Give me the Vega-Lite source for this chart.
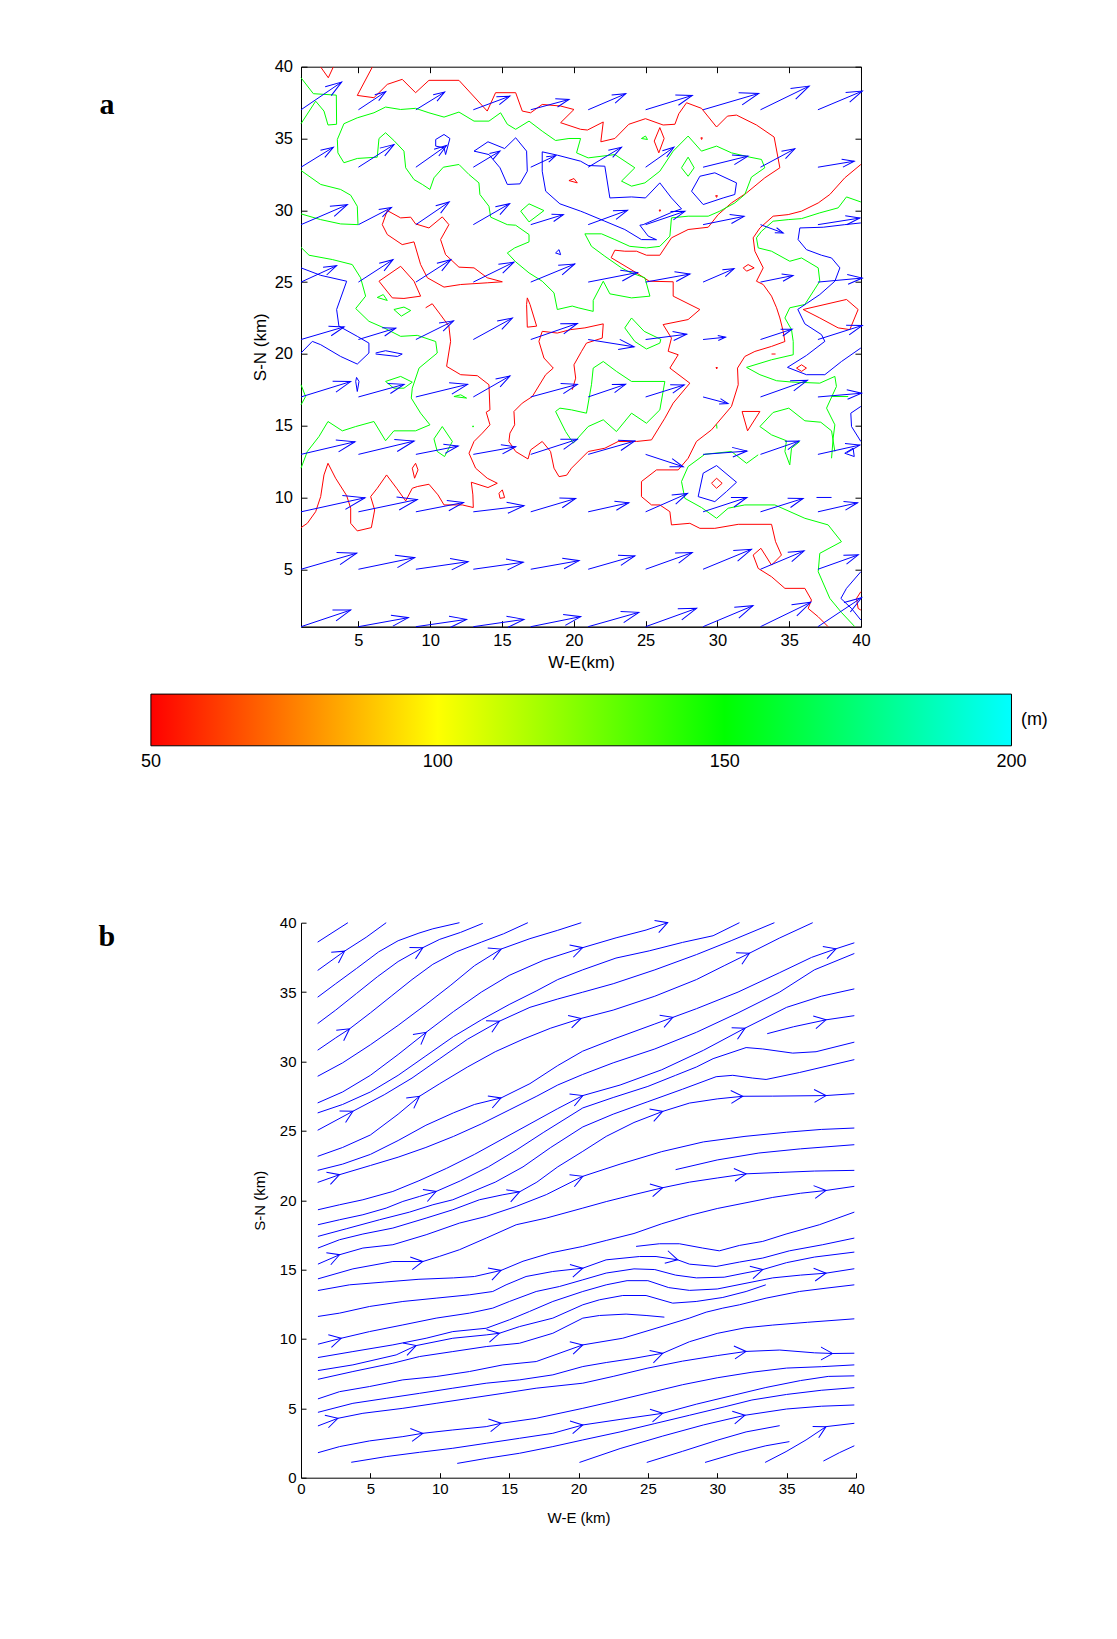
{
"$schema":"https://vega.github.io/schema/vega-lite/v6.json",
"padding":{"left":98,"top":57.7,"right":5,"bottom":5},
"background":"white",
"bounds":"flush",
"spacing":296,
"config":{
 "font":"Liberation Sans",
 "view":{"stroke":"black","strokeWidth":1},
 "axis":{"grid":false,"domainColor":"black","tickColor":"black","labelColor":"black","titleColor":"black","titleFontWeight":"normal","labelFlush":false,"labelOverlap":false,"domainWidth":1,"tickWidth":1,"labelFont":"Liberation Sans","titleFont":"Liberation Sans"}
},
"datasets":{
"contours":[
{"s":"r1","v":50,"x":2.37,"y":39.98},{"s":"r1","v":50,"x":2.9,"y":39.23},{"s":"r1","v":50,"x":3.25,"y":39.98},
{"s":"r2","v":50,"x":5.97,"y":39.98},{"s":"r2","v":50,"x":4.92,"y":38.0},{"s":"r2","v":50,"x":6.08,"y":37.84},{"s":"r2","v":50,"x":7.01,"y":38.77},{"s":"r2","v":50,"x":8.05,"y":39.12},{"s":"r2","v":50,"x":8.98,"y":38.19},{"s":"r2","v":50,"x":9.91,"y":39.05},{"s":"r2","v":50,"x":12.0,"y":39.05},{"s":"r2","v":50,"x":13.97,"y":36.91},{"s":"r2","v":50,"x":14.55,"y":38.19},{"s":"r2","v":50,"x":15.95,"y":38.19},{"s":"r2","v":50,"x":16.41,"y":36.91},{"s":"r2","v":50,"x":16.99,"y":36.79},{"s":"r2","v":50,"x":17.8,"y":37.37},{"s":"r2","v":50,"x":19.08,"y":37.26},{"s":"r2","v":50,"x":20.01,"y":37.02},{"s":"r2","v":50,"x":19.08,"y":36.1},{"s":"r2","v":50,"x":20.47,"y":35.64},{"s":"r2","v":50,"x":20.95,"y":35.59},{"s":"r2","v":50,"x":22.05,"y":36.15},{"s":"r2","v":50,"x":21.88,"y":34.77},{"s":"r2","v":50,"x":22.86,"y":35.0},{"s":"r2","v":50,"x":23.83,"y":35.99},{"s":"r2","v":50,"x":24.99,"y":36.38},{"s":"r2","v":50,"x":26.22,"y":35.94},{"s":"r2","v":50,"x":27.04,"y":35.99},{"s":"r2","v":50,"x":27.31,"y":36.72},{"s":"r2","v":50,"x":27.85,"y":37.49},{"s":"r2","v":50,"x":28.89,"y":37.1},{"s":"r2","v":50,"x":29.94,"y":35.8},{"s":"r2","v":50,"x":30.7,"y":36.56},{"s":"r2","v":50,"x":31.33,"y":36.63},{"s":"r2","v":50,"x":32.72,"y":35.94},{"s":"r2","v":50,"x":33.95,"y":35.1},{"s":"r2","v":50,"x":34.35,"y":32.96},{"s":"r2","v":50,"x":33.3,"y":32.26},{"s":"r2","v":50,"x":32.03,"y":31.21},{"s":"r2","v":50,"x":30.98,"y":30.51},{"s":"r2","v":50,"x":30.05,"y":29.7},{"s":"r2","v":50,"x":29.36,"y":28.82},{"s":"r2","v":50,"x":27.96,"y":28.66},{"s":"r2","v":50,"x":26.8,"y":28.08},{"s":"r2","v":50,"x":25.99,"y":26.87},{"s":"r2","v":50,"x":25.06,"y":26.87},{"s":"r2","v":50,"x":24.37,"y":27.15},{"s":"r2","v":50,"x":23.55,"y":27.15},{"s":"r2","v":50,"x":22.86,"y":27.22},{"s":"r2","v":50,"x":22.6,"y":26.7},{"s":"r2","v":50,"x":24.37,"y":25.64},{"s":"r2","v":50,"x":25.25,"y":25.06},{"s":"r2","v":50,"x":26.92,"y":25.02},{"s":"r2","v":50,"x":26.92,"y":24.02},{"s":"r2","v":50,"x":28.78,"y":23.09},{"s":"r2","v":50,"x":27.96,"y":22.39},{"s":"r2","v":50,"x":26.22,"y":22.04},{"s":"r2","v":50,"x":26.8,"y":21.1},{"s":"r2","v":50,"x":26.57,"y":20.18},{"s":"r2","v":50,"x":27.27,"y":19.94},{"s":"r2","v":50,"x":26.69,"y":19.01},{"s":"r2","v":50,"x":28.08,"y":17.96},{"s":"r2","v":50,"x":26.92,"y":16.57},{"s":"r2","v":50,"x":26.34,"y":15.52},{"s":"r2","v":50,"x":25.41,"y":14.01},{"s":"r2","v":50,"x":24.37,"y":13.9},{"s":"r2","v":50,"x":23.09,"y":13.9},{"s":"r2","v":50,"x":22.16,"y":13.43},{"s":"r2","v":50,"x":21.0,"y":13.2},{"s":"r2","v":50,"x":19.84,"y":12.04},{"s":"r2","v":50,"x":19.5,"y":11.55},{"s":"r2","v":50,"x":18.97,"y":11.45},{"s":"r2","v":50,"x":18.62,"y":12.04},{"s":"r2","v":50,"x":18.38,"y":13.2},{"s":"r2","v":50,"x":17.8,"y":13.9},{"s":"r2","v":50,"x":16.99,"y":13.31},{"s":"r2","v":50,"x":16.81,"y":12.68},{"s":"r2","v":50,"x":15.95,"y":13.2},{"s":"r2","v":50,"x":15.48,"y":13.9},{"s":"r2","v":50,"x":15.55,"y":14.48},{"s":"r2","v":50,"x":15.88,"y":15.06},{"s":"r2","v":50,"x":15.83,"y":15.99},{"s":"r2","v":50,"x":16.41,"y":16.57},{"s":"r2","v":50,"x":17.11,"y":17.03},{"s":"r2","v":50,"x":18.04,"y":18.55},{"s":"r2","v":50,"x":18.57,"y":19.01},{"s":"r2","v":50,"x":17.92,"y":19.71},{"s":"r2","v":50,"x":17.57,"y":20.87},{"s":"r2","v":50,"x":17.8,"y":21.57},{"s":"r2","v":50,"x":18.85,"y":21.45},{"s":"r2","v":50,"x":19.78,"y":21.69},{"s":"r2","v":50,"x":20.77,"y":21.81},{"s":"r2","v":50,"x":22.05,"y":22.09},{"s":"r2","v":50,"x":21.98,"y":21.1},{"s":"r2","v":50,"x":20.88,"y":20.75},{"s":"r2","v":50,"x":20.54,"y":20.18},{"s":"r2","v":50,"x":20.01,"y":19.24},{"s":"r2","v":50,"x":20.13,"y":18.31},{"s":"r2","v":50,"x":19.89,"y":17.5},
{"s":"r3","v":50,"x":7.01,"y":29.98},{"s":"r3","v":50,"x":7.94,"y":29.47},{"s":"r3","v":50,"x":8.64,"y":29.52},{"s":"r3","v":50,"x":8.98,"y":29.05},{"s":"r3","v":50,"x":9.91,"y":28.77},{"s":"r3","v":50,"x":10.84,"y":29.54},{"s":"r3","v":50,"x":11.3,"y":29.0},{"s":"r3","v":50,"x":10.72,"y":27.96},{"s":"r3","v":50,"x":11.07,"y":26.91},{"s":"r3","v":50,"x":12.0,"y":26.04},{"s":"r3","v":50,"x":13.05,"y":25.99},{"s":"r3","v":50,"x":13.97,"y":25.3},{"s":"r3","v":50,"x":15.02,"y":25.02},{"s":"r3","v":50,"x":13.97,"y":24.95},{"s":"r3","v":50,"x":12.12,"y":24.83},{"s":"r3","v":50,"x":10.96,"y":24.65},{"s":"r3","v":50,"x":9.8,"y":25.3},{"s":"r3","v":50,"x":9.33,"y":26.22},{"s":"r3","v":50,"x":8.87,"y":27.8},{"s":"r3","v":50,"x":8.05,"y":27.61},{"s":"r3","v":50,"x":7.01,"y":28.31},{"s":"r3","v":50,"x":6.66,"y":29.0},{"s":"r3","v":50,"x":7.01,"y":29.98},
{"s":"r4","v":50,"x":6.43,"y":25.06},{"s":"r4","v":50,"x":7.94,"y":26.1},{"s":"r4","v":50,"x":8.87,"y":25.06},{"s":"r4","v":50,"x":9.33,"y":24.02},{"s":"r4","v":50,"x":8.17,"y":23.86},{"s":"r4","v":50,"x":7.36,"y":23.9},{"s":"r4","v":50,"x":6.43,"y":25.06},
{"s":"r5","v":50,"x":9.68,"y":23.21},{"s":"r5","v":50,"x":10.14,"y":23.49},{"s":"r5","v":50,"x":10.72,"y":22.72},{"s":"r5","v":50,"x":11.3,"y":21.93},{"s":"r5","v":50,"x":11.42,"y":20.87},{"s":"r5","v":50,"x":11.14,"y":19.13},{"s":"r5","v":50,"x":12.12,"y":18.55},{"s":"r5","v":50,"x":13.28,"y":18.48},{"s":"r5","v":50,"x":14.09,"y":17.85},{"s":"r5","v":50,"x":14.16,"y":16.1},{"s":"r5","v":50,"x":13.9,"y":15.94},{"s":"r5","v":50,"x":14.16,"y":15.06},{"s":"r5","v":50,"x":13.63,"y":14.48},{"s":"r5","v":50,"x":13.05,"y":13.9},{"s":"r5","v":50,"x":12.7,"y":13.08},{"s":"r5","v":50,"x":13.16,"y":12.04},{"s":"r5","v":50,"x":13.97,"y":11.34},{"s":"r5","v":50,"x":14.67,"y":10.99},{"s":"r5","v":50,"x":14.02,"y":10.69},{"s":"r5","v":50,"x":12.86,"y":11.06},{"s":"r5","v":50,"x":12.97,"y":10.18},{"s":"r5","v":50,"x":13.0,"y":9.3},{"s":"r5","v":50,"x":12.23,"y":9.48},{"s":"r5","v":50,"x":10.96,"y":9.48},{"s":"r5","v":50,"x":10.54,"y":10.18},{"s":"r5","v":50,"x":9.91,"y":10.92},{"s":"r5","v":50,"x":9.1,"y":10.76},{"s":"r5","v":50,"x":8.75,"y":10.64},{"s":"r5","v":50,"x":8.29,"y":9.76},{"s":"r5","v":50,"x":7.66,"y":10.64},{"s":"r5","v":50,"x":6.96,"y":11.57},{"s":"r5","v":50,"x":6.31,"y":10.64},{"s":"r5","v":50,"x":5.85,"y":10.06},{"s":"r5","v":50,"x":6.13,"y":9.13},{"s":"r5","v":50,"x":5.9,"y":7.9},{"s":"r5","v":50,"x":4.92,"y":7.67},{"s":"r5","v":50,"x":4.46,"y":8.2},{"s":"r5","v":50,"x":4.46,"y":9.25},{"s":"r5","v":50,"x":4.18,"y":10.13},{"s":"r5","v":50,"x":3.41,"y":11.34},{"s":"r5","v":50,"x":2.88,"y":12.38},{"s":"r5","v":50,"x":2.6,"y":11.57},{"s":"r5","v":50,"x":2.37,"y":10.06},{"s":"r5","v":50,"x":2.02,"y":9.01},{"s":"r5","v":50,"x":1.44,"y":8.2},{"s":"r5","v":50,"x":1.0,"y":7.9},
{"s":"r6","v":50,"x":8.75,"y":12.04},{"s":"r6","v":50,"x":8.98,"y":12.38},{"s":"r6","v":50,"x":9.15,"y":11.92},{"s":"r6","v":50,"x":8.91,"y":11.34},{"s":"r6","v":50,"x":8.75,"y":12.04},
{"s":"r7","v":50,"x":14.79,"y":10.29},{"s":"r7","v":50,"x":15.02,"y":10.53},{"s":"r7","v":50,"x":15.18,"y":9.99},{"s":"r7","v":50,"x":14.86,"y":9.94},{"s":"r7","v":50,"x":14.79,"y":10.29},
{"s":"r8","v":50,"x":16.76,"y":23.9},{"s":"r8","v":50,"x":16.95,"y":23.44},{"s":"r8","v":50,"x":17.41,"y":21.93},{"s":"r8","v":50,"x":16.76,"y":21.86},{"s":"r8","v":50,"x":16.71,"y":23.44},{"s":"r8","v":50,"x":16.76,"y":23.9},
{"s":"r9","v":50,"x":19.66,"y":32.07},{"s":"r9","v":50,"x":20.01,"y":32.21},{"s":"r9","v":50,"x":20.24,"y":31.91},{"s":"r9","v":50,"x":19.66,"y":32.07},
{"s":"r10","v":50,"x":25.6,"y":34.82},{"s":"r10","v":50,"x":25.99,"y":35.76},{"s":"r10","v":50,"x":26.29,"y":35.0},{"s":"r10","v":50,"x":25.92,"y":34.0},{"s":"r10","v":50,"x":25.6,"y":34.82},
{"s":"r11","v":50,"x":28.85,"y":35.05},{"s":"r11","v":50,"x":28.95,"y":35.05},{"s":"r11","v":50,"x":28.9,"y":34.93},{"s":"r11","v":50,"x":28.85,"y":35.05},
{"s":"r12","v":50,"x":29.88,"y":31.02},{"s":"r12","v":50,"x":30.0,"y":31.02},{"s":"r12","v":50,"x":29.94,"y":30.9},{"s":"r12","v":50,"x":29.88,"y":31.02},
{"s":"r13","v":50,"x":25.94,"y":30.02},{"s":"r13","v":50,"x":26.05,"y":30.02},{"s":"r13","v":50,"x":25.99,"y":29.92},{"s":"r13","v":50,"x":25.94,"y":30.02},
{"s":"r14","v":50,"x":39.99,"y":33.19},{"s":"r14","v":50,"x":38.87,"y":32.26},{"s":"r14","v":50,"x":37.83,"y":31.1},{"s":"r14","v":50,"x":37.02,"y":30.51},{"s":"r14","v":50,"x":35.86,"y":29.94},{"s":"r14","v":50,"x":34.93,"y":29.7},{"s":"r14","v":50,"x":33.88,"y":29.59},{"s":"r14","v":50,"x":32.96,"y":28.77},{"s":"r14","v":50,"x":32.49,"y":28.08},{"s":"r14","v":50,"x":32.61,"y":27.15},{"s":"r14","v":50,"x":33.19,"y":25.99},{"s":"r14","v":50,"x":32.72,"y":25.06},{"s":"r14","v":50,"x":33.19,"y":24.83},{"s":"r14","v":50,"x":33.77,"y":24.02},{"s":"r14","v":50,"x":34.12,"y":23.21},{"s":"r14","v":50,"x":34.35,"y":22.5},{"s":"r14","v":50,"x":34.58,"y":21.57},{"s":"r14","v":50,"x":34.7,"y":20.86},{"s":"r14","v":50,"x":33.77,"y":20.52},{"s":"r14","v":50,"x":32.61,"y":20.17},{"s":"r14","v":50,"x":31.91,"y":19.82},{"s":"r14","v":50,"x":31.4,"y":19.01},{"s":"r14","v":50,"x":31.45,"y":17.85},{"s":"r14","v":50,"x":30.98,"y":16.34},{"s":"r14","v":50,"x":29.59,"y":14.71},{"s":"r14","v":50,"x":28.54,"y":13.9},{"s":"r14","v":50,"x":27.96,"y":12.73},{"s":"r14","v":50,"x":27.27,"y":11.92},{"s":"r14","v":50,"x":25.76,"y":11.92},{"s":"r14","v":50,"x":24.71,"y":11.11},{"s":"r14","v":50,"x":24.71,"y":10.06},{"s":"r14","v":50,"x":25.41,"y":9.48},{"s":"r14","v":50,"x":25.99,"y":9.48},{"s":"r14","v":50,"x":26.69,"y":9.01},{"s":"r14","v":50,"x":26.8,"y":8.09},{"s":"r14","v":50,"x":28.08,"y":8.2},{"s":"r14","v":50,"x":28.78,"y":7.85},{"s":"r14","v":50,"x":29.82,"y":7.85},{"s":"r14","v":50,"x":31.45,"y":8.13},{"s":"r14","v":50,"x":33.77,"y":8.13},{"s":"r14","v":50,"x":34.05,"y":6.92},{"s":"r14","v":50,"x":34.46,"y":5.99},{"s":"r14","v":50,"x":33.77,"y":5.29},{"s":"r14","v":50,"x":33.03,"y":6.46},{"s":"r14","v":50,"x":32.49,"y":5.99},{"s":"r14","v":50,"x":32.84,"y":5.06},{"s":"r14","v":50,"x":33.77,"y":4.48},{"s":"r14","v":50,"x":34.7,"y":3.67},{"s":"r14","v":50,"x":36.09,"y":3.67},{"s":"r14","v":50,"x":36.55,"y":2.86},{"s":"r14","v":50,"x":36.32,"y":2.27},{"s":"r14","v":50,"x":37.02,"y":1.69},{"s":"r14","v":50,"x":37.71,"y":1.0},
{"s":"r15","v":50,"x":31.8,"y":25.99},{"s":"r15","v":50,"x":32.14,"y":26.22},{"s":"r15","v":50,"x":32.56,"y":25.99},{"s":"r15","v":50,"x":32.03,"y":25.76},{"s":"r15","v":50,"x":31.8,"y":25.99},
{"s":"r16","v":50,"x":35.97,"y":23.09},{"s":"r16","v":50,"x":38.99,"y":23.79},{"s":"r16","v":50,"x":39.8,"y":23.09},{"s":"r16","v":50,"x":39.22,"y":21.69},{"s":"r16","v":50,"x":38.41,"y":21.81},{"s":"r16","v":50,"x":37.13,"y":22.5},{"s":"r16","v":50,"x":35.97,"y":23.09},
{"s":"r17","v":50,"x":31.72,"y":15.99},{"s":"r17","v":50,"x":32.96,"y":15.99},{"s":"r17","v":50,"x":32.1,"y":14.64},{"s":"r17","v":50,"x":31.72,"y":15.99},
{"s":"r18","v":50,"x":29.59,"y":10.99},{"s":"r18","v":50,"x":29.94,"y":11.34},{"s":"r18","v":50,"x":30.33,"y":10.99},{"s":"r18","v":50,"x":29.94,"y":10.64},{"s":"r18","v":50,"x":29.59,"y":10.99},
{"s":"r19","v":50,"x":35.51,"y":19.01},{"s":"r19","v":50,"x":35.86,"y":19.24},{"s":"r19","v":50,"x":36.2,"y":19.01},{"s":"r19","v":50,"x":35.86,"y":18.78},{"s":"r19","v":50,"x":35.51,"y":19.01},
{"s":"r20","v":50,"x":33.77,"y":19.99},{"s":"r20","v":50,"x":34.05,"y":19.99},
{"s":"r21","v":50,"x":29.9,"y":19.05},{"s":"r21","v":50,"x":30.0,"y":19.05},{"s":"r21","v":50,"x":29.95,"y":18.95},{"s":"r21","v":50,"x":29.9,"y":19.05},
{"s":"r22","v":50,"x":39.99,"y":3.44},{"s":"r22","v":50,"x":39.69,"y":2.97},{"s":"r22","v":50,"x":39.8,"y":2.27},{"s":"r22","v":50,"x":39.99,"y":2.16},
{"s":"g1","v":150,"x":1.0,"y":39.23},{"s":"g1","v":150,"x":1.86,"y":38.12},{"s":"g1","v":150,"x":3.46,"y":38.02},{"s":"g1","v":150,"x":3.48,"y":35.99},{"s":"g1","v":150,"x":2.88,"y":35.94},{"s":"g1","v":150,"x":2.6,"y":36.91},{"s":"g1","v":150,"x":2.02,"y":37.6},{"s":"g1","v":150,"x":1.0,"y":36.03},
{"s":"g2","v":150,"x":3.53,"y":34.93},{"s":"g2","v":150,"x":3.99,"y":36.03},{"s":"g2","v":150,"x":4.92,"y":36.44},{"s":"g2","v":150,"x":6.08,"y":36.79},{"s":"g2","v":150,"x":6.89,"y":37.19},{"s":"g2","v":150,"x":7.94,"y":37.02},{"s":"g2","v":150,"x":8.98,"y":37.1},{"s":"g2","v":150,"x":9.91,"y":36.79},{"s":"g2","v":150,"x":10.96,"y":36.49},{"s":"g2","v":150,"x":12.0,"y":36.84},{"s":"g2","v":150,"x":13.05,"y":36.21},{"s":"g2","v":150,"x":14.09,"y":36.21},{"s":"g2","v":150,"x":14.9,"y":36.79},{"s":"g2","v":150,"x":15.37,"y":35.99},{"s":"g2","v":150,"x":15.95,"y":35.64},{"s":"g2","v":150,"x":16.88,"y":36.21},{"s":"g2","v":150,"x":17.8,"y":35.51},{"s":"g2","v":150,"x":18.73,"y":34.86},{"s":"g2","v":150,"x":19.66,"y":35.0},{"s":"g2","v":150,"x":20.47,"y":35.0},{"s":"g2","v":150,"x":20.19,"y":34.0},{"s":"g2","v":150,"x":21.0,"y":33.65},{"s":"g2","v":150,"x":22.86,"y":33.88},{"s":"g2","v":150,"x":24.25,"y":32.96},{"s":"g2","v":150,"x":23.32,"y":32.03},{"s":"g2","v":150,"x":24.02,"y":31.68},{"s":"g2","v":150,"x":24.95,"y":31.91},{"s":"g2","v":150,"x":25.99,"y":32.72},{"s":"g2","v":150,"x":26.92,"y":34.12},{"s":"g2","v":150,"x":27.96,"y":35.17},{"s":"g2","v":150,"x":28.89,"y":34.12},{"s":"g2","v":150,"x":29.94,"y":34.47},{"s":"g2","v":150,"x":30.98,"y":34.0},{"s":"g2","v":150,"x":32.26,"y":33.7},{"s":"g2","v":150,"x":33.07,"y":33.54},{"s":"g2","v":150,"x":33.3,"y":32.96},{"s":"g2","v":150,"x":32.37,"y":32.31},{"s":"g2","v":150,"x":31.91,"y":31.1},{"s":"g2","v":150,"x":31.21,"y":30.51},{"s":"g2","v":150,"x":30.17,"y":29.94},{"s":"g2","v":150,"x":29.36,"y":29.59},{"s":"g2","v":150,"x":27.96,"y":29.59},{"s":"g2","v":150,"x":26.8,"y":29.47},{"s":"g2","v":150,"x":26.69,"y":28.2},{"s":"g2","v":150,"x":25.99,"y":27.49},{"s":"g2","v":150,"x":25.06,"y":27.38},{"s":"g2","v":150,"x":23.9,"y":27.49},{"s":"g2","v":150,"x":22.86,"y":27.96},{"s":"g2","v":150,"x":21.93,"y":28.36},{"s":"g2","v":150,"x":20.77,"y":28.36},{"s":"g2","v":150,"x":21.23,"y":27.49},{"s":"g2","v":150,"x":22.16,"y":26.8},{"s":"g2","v":150,"x":23.32,"y":25.99},{"s":"g2","v":150,"x":23.9,"y":25.68},{"s":"g2","v":150,"x":24.95,"y":25.3},{"s":"g2","v":150,"x":25.3,"y":24.02},{"s":"g2","v":150,"x":24.02,"y":23.9},{"s":"g2","v":150,"x":22.51,"y":24.18},{"s":"g2","v":150,"x":22.05,"y":25.06},{"s":"g2","v":150,"x":21.35,"y":23.72},{"s":"g2","v":150,"x":21.35,"y":22.96},{"s":"g2","v":150,"x":20.3,"y":23.21},{"s":"g2","v":150,"x":19.89,"y":23.33},{"s":"g2","v":150,"x":18.85,"y":23.09},{"s":"g2","v":150,"x":18.62,"y":24.25},{"s":"g2","v":150,"x":17.8,"y":25.06},{"s":"g2","v":150,"x":16.88,"y":25.64},{"s":"g2","v":150,"x":15.95,"y":26.41},{"s":"g2","v":150,"x":15.37,"y":27.03},{"s":"g2","v":150,"x":15.88,"y":27.38},{"s":"g2","v":150,"x":16.88,"y":27.8},{"s":"g2","v":150,"x":16.88,"y":28.31},{"s":"g2","v":150,"x":15.95,"y":28.96},{"s":"g2","v":150,"x":15.37,"y":29.0},{"s":"g2","v":150,"x":14.21,"y":29.52},{"s":"g2","v":150,"x":14.09,"y":30.28},{"s":"g2","v":150,"x":13.46,"y":31.1},{"s":"g2","v":150,"x":13.39,"y":31.91},{"s":"g2","v":150,"x":12.7,"y":32.49},{"s":"g2","v":150,"x":12.0,"y":33.19},{"s":"g2","v":150,"x":10.91,"y":33.0},{"s":"g2","v":150,"x":10.26,"y":32.26},{"s":"g2","v":150,"x":9.98,"y":31.45},{"s":"g2","v":150,"x":9.45,"y":31.8},{"s":"g2","v":150,"x":8.87,"y":32.14},{"s":"g2","v":150,"x":8.29,"y":32.96},{"s":"g2","v":150,"x":8.17,"y":34.12},{"s":"g2","v":150,"x":7.47,"y":34.86},{"s":"g2","v":150,"x":6.89,"y":35.4},{"s":"g2","v":150,"x":6.43,"y":35.0},{"s":"g2","v":150,"x":6.31,"y":33.7},{"s":"g2","v":150,"x":4.92,"y":33.61},{"s":"g2","v":150,"x":3.99,"y":33.31},{"s":"g2","v":150,"x":3.57,"y":34.0},{"s":"g2","v":150,"x":3.53,"y":34.93},
{"s":"g3","v":150,"x":1.0,"y":32.77},{"s":"g3","v":150,"x":2.37,"y":31.8},{"s":"g3","v":150,"x":3.76,"y":31.45},{"s":"g3","v":150,"x":4.46,"y":31.05},{"s":"g3","v":150,"x":4.92,"y":30.28},{"s":"g3","v":150,"x":4.97,"y":29.0},{"s":"g3","v":150,"x":3.76,"y":29.05},{"s":"g3","v":150,"x":2.37,"y":29.35},{"s":"g3","v":150,"x":1.0,"y":29.75},
{"s":"g4","v":150,"x":1.0,"y":27.42},{"s":"g4","v":150,"x":1.56,"y":26.87},{"s":"g4","v":150,"x":3.18,"y":26.57},{"s":"g4","v":150,"x":4.57,"y":26.22},{"s":"g4","v":150,"x":5.15,"y":25.3},{"s":"g4","v":150,"x":5.5,"y":24.02},{"s":"g4","v":150,"x":4.81,"y":23.16},{"s":"g4","v":150,"x":5.73,"y":22.27},{"s":"g4","v":150,"x":6.78,"y":21.81},{"s":"g4","v":150,"x":7.94,"y":21.22},{"s":"g4","v":150,"x":9.1,"y":21.29},{"s":"g4","v":150,"x":10.38,"y":20.86},{"s":"g4","v":150,"x":10.49,"y":20.06},{"s":"g4","v":150,"x":9.22,"y":19.01},{"s":"g4","v":150,"x":8.75,"y":17.61},{"s":"g4","v":150,"x":8.68,"y":16.92},{"s":"g4","v":150,"x":9.33,"y":15.87},{"s":"g4","v":150,"x":9.98,"y":15.06},{"s":"g4","v":150,"x":8.98,"y":14.64},{"s":"g4","v":150,"x":7.47,"y":14.64},{"s":"g4","v":150,"x":6.89,"y":13.95},{"s":"g4","v":150,"x":6.08,"y":15.29},{"s":"g4","v":150,"x":4.81,"y":14.94},{"s":"g4","v":150,"x":3.88,"y":14.64},{"s":"g4","v":150,"x":2.88,"y":15.29},{"s":"g4","v":150,"x":2.25,"y":14.24},{"s":"g4","v":150,"x":1.44,"y":13.2},{"s":"g4","v":150,"x":1.0,"y":12.04},
{"s":"g5","v":150,"x":16.3,"y":29.94},{"s":"g5","v":150,"x":16.88,"y":30.45},{"s":"g5","v":150,"x":17.92,"y":29.98},{"s":"g5","v":150,"x":16.88,"y":29.19},{"s":"g5","v":150,"x":16.3,"y":29.94},
{"s":"g6","v":150,"x":6.31,"y":23.93},{"s":"g6","v":150,"x":6.73,"y":24.13},{"s":"g6","v":150,"x":7.01,"y":23.72},{"s":"g6","v":150,"x":6.31,"y":23.93},
{"s":"g7","v":150,"x":7.47,"y":23.09},{"s":"g7","v":150,"x":8.17,"y":23.26},{"s":"g7","v":150,"x":8.64,"y":23.02},{"s":"g7","v":150,"x":7.99,"y":22.63},{"s":"g7","v":150,"x":7.47,"y":23.09},
{"s":"g8","v":150,"x":27.5,"y":32.96},{"s":"g8","v":150,"x":27.96,"y":33.7},{"s":"g8","v":150,"x":28.38,"y":32.96},{"s":"g8","v":150,"x":27.96,"y":32.37},{"s":"g8","v":150,"x":27.5,"y":32.96},
{"s":"g9","v":150,"x":24.71,"y":35.0},{"s":"g9","v":150,"x":24.99,"y":35.17},{"s":"g9","v":150,"x":25.13,"y":34.93},{"s":"g9","v":150,"x":24.71,"y":35.0},
{"s":"g10","v":150,"x":39.99,"y":30.58},{"s":"g10","v":150,"x":38.99,"y":30.93},{"s":"g10","v":150,"x":38.41,"y":30.17},{"s":"g10","v":150,"x":37.13,"y":29.82},{"s":"g10","v":150,"x":35.86,"y":29.42},{"s":"g10","v":150,"x":34.93,"y":29.35},{"s":"g10","v":150,"x":33.88,"y":29.24},{"s":"g10","v":150,"x":33.07,"y":28.54},{"s":"g10","v":150,"x":32.72,"y":28.08},{"s":"g10","v":150,"x":32.84,"y":27.38},{"s":"g10","v":150,"x":33.77,"y":27.15},{"s":"g10","v":150,"x":35.04,"y":26.45},{"s":"g10","v":150,"x":35.86,"y":26.68},{"s":"g10","v":150,"x":37.02,"y":25.99},{"s":"g10","v":150,"x":37.13,"y":25.06},{"s":"g10","v":150,"x":36.09,"y":23.44},{"s":"g10","v":150,"x":35.04,"y":23.21},{"s":"g10","v":150,"x":34.7,"y":22.5},{"s":"g10","v":150,"x":35.16,"y":21.69},{"s":"g10","v":150,"x":35.28,"y":20.86},{"s":"g10","v":150,"x":35.28,"y":19.94},{"s":"g10","v":150,"x":33.77,"y":19.59},{"s":"g10","v":150,"x":32.03,"y":19.06},{"s":"g10","v":150,"x":32.96,"y":18.55},{"s":"g10","v":150,"x":34.12,"y":18.13},{"s":"g10","v":150,"x":35.16,"y":18.04},{"s":"g10","v":150,"x":37.13,"y":17.96},{"s":"g10","v":150,"x":38.18,"y":18.43},{"s":"g10","v":150,"x":38.29,"y":17.73},{"s":"g10","v":150,"x":37.6,"y":16.22},{"s":"g10","v":150,"x":38.18,"y":15.06},{"s":"g10","v":150,"x":38.06,"y":14.13},{"s":"g10","v":150,"x":37.95,"y":12.73},
{"s":"g11","v":150,"x":37.95,"y":17.03},{"s":"g11","v":150,"x":39.11,"y":17.03},
{"s":"g12","v":150,"x":23.55,"y":21.81},{"s":"g12","v":150,"x":24.02,"y":22.5},{"s":"g12","v":150,"x":24.9,"y":21.57},{"s":"g12","v":150,"x":26.06,"y":21.01},{"s":"g12","v":150,"x":25.99,"y":20.75},{"s":"g12","v":150,"x":25.06,"y":20.34},{"s":"g12","v":150,"x":24.25,"y":20.86},{"s":"g12","v":150,"x":23.55,"y":21.81},
{"s":"g13","v":150,"x":19.96,"y":13.78},{"s":"g13","v":150,"x":19.43,"y":14.59},{"s":"g13","v":150,"x":18.73,"y":15.99},{"s":"g13","v":150,"x":19.03,"y":16.22},{"s":"g13","v":150,"x":19.84,"y":16.1},{"s":"g13","v":150,"x":20.88,"y":15.87},{"s":"g13","v":150,"x":21.23,"y":17.85},{"s":"g13","v":150,"x":21.35,"y":19.01},{"s":"g13","v":150,"x":22.05,"y":19.47},{"s":"g13","v":150,"x":22.97,"y":18.78},{"s":"g13","v":150,"x":24.02,"y":18.08},{"s":"g13","v":150,"x":26.34,"y":18.08},{"s":"g13","v":150,"x":25.99,"y":16.1},{"s":"g13","v":150,"x":25.06,"y":15.17},{"s":"g13","v":150,"x":24.02,"y":15.87},{"s":"g13","v":150,"x":22.97,"y":14.59},{"s":"g13","v":150,"x":22.05,"y":15.41},{"s":"g13","v":150,"x":21.0,"y":14.94},{"s":"g13","v":150,"x":19.96,"y":13.78},
{"s":"g14","v":150,"x":1.0,"y":17.85},{"s":"g14","v":150,"x":1.32,"y":17.03},{"s":"g14","v":150,"x":1.0,"y":16.45},
{"s":"g15","v":150,"x":6.89,"y":18.08},{"s":"g15","v":150,"x":7.94,"y":18.43},{"s":"g15","v":150,"x":8.75,"y":18.03},{"s":"g15","v":150,"x":8.17,"y":17.61},{"s":"g15","v":150,"x":7.47,"y":17.61},{"s":"g15","v":150,"x":6.89,"y":18.08},
{"s":"g16","v":150,"x":10.26,"y":14.08},{"s":"g16","v":150,"x":10.84,"y":14.94},{"s":"g16","v":150,"x":11.54,"y":13.9},{"s":"g16","v":150,"x":11.0,"y":12.85},{"s":"g16","v":150,"x":10.49,"y":13.2},{"s":"g16","v":150,"x":10.26,"y":14.08},
{"s":"g17","v":150,"x":11.65,"y":17.03},{"s":"g17","v":150,"x":12.12,"y":17.15},{"s":"g17","v":150,"x":12.53,"y":16.92},{"s":"g17","v":150,"x":11.65,"y":17.03},
{"s":"g18","v":150,"x":12.95,"y":14.97},{"s":"g18","v":150,"x":13.02,"y":14.97},{"s":"g18","v":150,"x":12.98,"y":14.9},{"s":"g18","v":150,"x":12.95,"y":14.97},
{"s":"g19","v":150,"x":38.18,"y":13.2},{"s":"g19","v":150,"x":37.95,"y":14.64},{"s":"g19","v":150,"x":37.2,"y":15.24},{"s":"g19","v":150,"x":36.09,"y":15.34},{"s":"g19","v":150,"x":34.97,"y":16.22},{"s":"g19","v":150,"x":33.88,"y":15.92},{"s":"g19","v":150,"x":32.96,"y":14.94},{"s":"g19","v":150,"x":33.77,"y":14.36},{"s":"g19","v":150,"x":34.81,"y":13.95},{"s":"g19","v":150,"x":34.7,"y":13.2},{"s":"g19","v":150,"x":35.04,"y":12.27},{"s":"g19","v":150,"x":35.16,"y":13.43},{"s":"g19","v":150,"x":35.74,"y":13.9},
{"s":"g20","v":150,"x":32.84,"y":12.97},{"s":"g20","v":150,"x":32.03,"y":12.38},{"s":"g20","v":150,"x":30.98,"y":13.2},{"s":"g20","v":150,"x":29.13,"y":13.01},{"s":"g20","v":150,"x":27.96,"y":12.15},{"s":"g20","v":150,"x":27.5,"y":11.11},{"s":"g20","v":150,"x":27.73,"y":9.94},{"s":"g20","v":150,"x":28.89,"y":9.3},{"s":"g20","v":150,"x":29.94,"y":8.55},{"s":"g20","v":150,"x":30.75,"y":9.25},{"s":"g20","v":150,"x":31.91,"y":9.48},{"s":"g20","v":150,"x":34.0,"y":9.48},{"s":"g20","v":150,"x":36.09,"y":8.55},{"s":"g20","v":150,"x":37.71,"y":8.09},{"s":"g20","v":150,"x":38.64,"y":6.92},{"s":"g20","v":150,"x":37.13,"y":6.11},{"s":"g20","v":150,"x":37.02,"y":4.83},{"s":"g20","v":150,"x":37.83,"y":2.97},{"s":"g20","v":150,"x":38.64,"y":1.99},{"s":"g20","v":150,"x":39.57,"y":1.0},
{"s":"g21","v":150,"x":29.94,"y":15.1},{"s":"g21","v":150,"x":29.97,"y":14.8},
{"s":"b1","v":250,"x":1.0,"y":25.99},{"s":"b1","v":250,"x":2.37,"y":25.47},{"s":"b1","v":250,"x":4.18,"y":25.06},{"s":"b1","v":250,"x":3.48,"y":23.09},{"s":"b1","v":250,"x":3.64,"y":21.93},{"s":"b1","v":250,"x":4.92,"y":21.22},{"s":"b1","v":250,"x":5.73,"y":20.75},{"s":"b1","v":250,"x":5.73,"y":20.06},{"s":"b1","v":250,"x":4.92,"y":19.29},{"s":"b1","v":250,"x":3.76,"y":19.82},{"s":"b1","v":250,"x":2.37,"y":20.64},{"s":"b1","v":250,"x":1.79,"y":20.87},{"s":"b1","v":250,"x":1.0,"y":20.06},
{"s":"b2","v":250,"x":10.38,"y":34.93},{"s":"b2","v":250,"x":10.96,"y":35.28},{"s":"b2","v":250,"x":11.37,"y":35.0},{"s":"b2","v":250,"x":11.07,"y":33.88},{"s":"b2","v":250,"x":10.96,"y":34.35},{"s":"b2","v":250,"x":10.38,"y":34.47},{"s":"b2","v":250,"x":10.38,"y":34.93},
{"s":"b3","v":250,"x":13.05,"y":34.12},{"s":"b3","v":250,"x":14.02,"y":34.77},{"s":"b3","v":250,"x":15.18,"y":34.3},{"s":"b3","v":250,"x":15.95,"y":35.05},{"s":"b3","v":250,"x":16.71,"y":34.12},{"s":"b3","v":250,"x":16.76,"y":32.72},{"s":"b3","v":250,"x":16.25,"y":31.84},{"s":"b3","v":250,"x":15.37,"y":31.8},{"s":"b3","v":250,"x":14.86,"y":32.96},{"s":"b3","v":250,"x":14.09,"y":33.88},{"s":"b3","v":250,"x":13.05,"y":34.12},
{"s":"b4","v":250,"x":21.0,"y":33.12},{"s":"b4","v":250,"x":22.16,"y":33.07},{"s":"b4","v":250,"x":22.51,"y":30.86},{"s":"b4","v":250,"x":24.02,"y":30.93},{"s":"b4","v":250,"x":24.99,"y":30.86},{"s":"b4","v":250,"x":25.99,"y":31.91},{"s":"b4","v":250,"x":26.8,"y":30.86},{"s":"b4","v":250,"x":27.5,"y":30.1},{"s":"b4","v":250,"x":26.8,"y":29.85},{"s":"b4","v":250,"x":25.99,"y":29.5},{"s":"b4","v":250,"x":24.83,"y":29.0},{"s":"b4","v":250,"x":24.6,"y":28.96},{"s":"b4","v":250,"x":25.18,"y":28.2},{"s":"b4","v":250,"x":25.76,"y":27.95},{"s":"b4","v":250,"x":24.71,"y":27.96},{"s":"b4","v":250,"x":23.55,"y":28.66},{"s":"b4","v":250,"x":22.16,"y":29.24},{"s":"b4","v":250,"x":20.77,"y":29.82},{"s":"b4","v":250,"x":20.47,"y":29.94},{"s":"b4","v":250,"x":19.03,"y":30.45},{"s":"b4","v":250,"x":18.04,"y":31.33},{"s":"b4","v":250,"x":17.8,"y":32.72},{"s":"b4","v":250,"x":17.8,"y":34.07},{"s":"b4","v":250,"x":18.85,"y":33.84},{"s":"b4","v":250,"x":20.47,"y":33.42},{"s":"b4","v":250,"x":21.0,"y":33.12},
{"s":"b5","v":250,"x":18.73,"y":27.03},{"s":"b5","v":250,"x":18.97,"y":27.26},{"s":"b5","v":250,"x":19.08,"y":26.91},{"s":"b5","v":250,"x":18.73,"y":27.03},
{"s":"b6","v":250,"x":28.2,"y":31.33},{"s":"b6","v":250,"x":28.78,"y":32.37},{"s":"b6","v":250,"x":29.82,"y":32.61},{"s":"b6","v":250,"x":31.33,"y":31.91},{"s":"b6","v":250,"x":31.21,"y":31.1},{"s":"b6","v":250,"x":30.4,"y":30.86},{"s":"b6","v":250,"x":29.01,"y":30.4},{"s":"b6","v":250,"x":28.2,"y":31.33},
{"s":"b8","v":250,"x":39.99,"y":29.12},{"s":"b8","v":250,"x":38.87,"y":29.0},{"s":"b8","v":250,"x":37.37,"y":28.82},{"s":"b8","v":250,"x":35.74,"y":28.77},{"s":"b8","v":250,"x":35.62,"y":27.96},{"s":"b8","v":250,"x":36.2,"y":27.26},{"s":"b8","v":250,"x":37.25,"y":26.87},{"s":"b8","v":250,"x":37.95,"y":26.68},{"s":"b8","v":250,"x":38.53,"y":25.99},{"s":"b8","v":250,"x":38.18,"y":25.06},{"s":"b8","v":250,"x":37.13,"y":24.13},{"s":"b8","v":250,"x":36.2,"y":23.5},{"s":"b8","v":250,"x":35.6,"y":23.1},{"s":"b8","v":250,"x":36.09,"y":22.09},{"s":"b8","v":250,"x":37.25,"y":21.34},{"s":"b8","v":250,"x":37.48,"y":20.87},{"s":"b8","v":250,"x":36.2,"y":19.89},{"s":"b8","v":250,"x":34.88,"y":19.06},{"s":"b8","v":250,"x":36.2,"y":18.55},{"s":"b8","v":250,"x":37.48,"y":18.55},{"s":"b8","v":250,"x":38.64,"y":19.47},{"s":"b8","v":250,"x":39.99,"y":20.41},
{"s":"b9","v":250,"x":28.66,"y":10.06},{"s":"b9","v":250,"x":29.01,"y":11.69},{"s":"b9","v":250,"x":29.94,"y":12.22},{"s":"b9","v":250,"x":31.33,"y":11.06},{"s":"b9","v":250,"x":30.63,"y":10.41},{"s":"b9","v":250,"x":29.82,"y":9.71},{"s":"b9","v":250,"x":28.66,"y":10.06},
{"s":"b11","v":250,"x":39.99,"y":16.34},{"s":"b11","v":250,"x":39.29,"y":15.87},{"s":"b11","v":250,"x":39.34,"y":14.94},{"s":"b11","v":250,"x":39.99,"y":13.9},
{"s":"b12","v":250,"x":38.87,"y":13.08},{"s":"b12","v":250,"x":39.45,"y":13.43},{"s":"b12","v":250,"x":39.53,"y":12.85},{"s":"b12","v":250,"x":38.87,"y":13.08},
{"s":"b13","v":250,"x":39.99,"y":4.83},{"s":"b13","v":250,"x":38.99,"y":3.67},{"s":"b13","v":250,"x":38.6,"y":2.97},{"s":"b13","v":250,"x":39.34,"y":2.27},{"s":"b13","v":250,"x":39.99,"y":1.46},
{"s":"b14","v":250,"x":36.9,"y":10.0},{"s":"b14","v":250,"x":37.95,"y":10.0},
{"s":"b15","v":250,"x":6.2,"y":20.06},{"s":"b15","v":250,"x":6.89,"y":20.22},{"s":"b15","v":250,"x":8.05,"y":19.99},{"s":"b15","v":250,"x":7.71,"y":19.82},{"s":"b15","v":250,"x":6.2,"y":19.99},
{"s":"b16","v":250,"x":4.87,"y":18.36},{"s":"b16","v":250,"x":5.04,"y":18.08},{"s":"b16","v":250,"x":4.92,"y":17.38},{"s":"b16","v":250,"x":4.81,"y":18.08},{"s":"b16","v":250,"x":4.87,"y":18.36}
],
"quiver":[
{"x":1,"y":37,"xe":3.83,"ye":38.93,"L":3.43,"d":34.3},{"x":5,"y":37,"xe":6.9,"ye":38.26,"L":2.28,"d":33.6},{"x":9,"y":37,"xe":11.0,"ye":38.23,"L":2.35,"d":31.6},{"x":13,"y":37,"xe":15.55,"ye":37.95,"L":2.72,"d":20.4},{"x":17,"y":37,"xe":19.67,"ye":37.72,"L":2.77,"d":15.1},{"x":21,"y":37,"xe":23.62,"ye":38.12,"L":2.85,"d":23.1},{"x":25,"y":37,"xe":28.25,"ye":38.0,"L":3.4,"d":17.1},{"x":29,"y":37,"xe":32.88,"ye":38.14,"L":4.04,"d":16.4},{"x":33,"y":37,"xe":36.39,"ye":38.65,"L":3.77,"d":26.0},{"x":37,"y":37,"xe":40.09,"ye":38.3,"L":3.35,"d":22.8},
{"x":1,"y":33,"xe":3.25,"ye":34.39,"L":2.64,"d":31.7},{"x":5,"y":33,"xe":7.48,"ye":34.58,"L":2.94,"d":32.5},{"x":9,"y":33,"xe":11.14,"ye":34.51,"L":2.62,"d":35.2},{"x":13,"y":33,"xe":14.86,"ye":34.12,"L":2.17,"d":31.1},{"x":17,"y":33,"xe":18.74,"ye":33.81,"L":1.92,"d":25.0},{"x":21,"y":33,"xe":23.32,"ye":34.39,"L":2.7,"d":30.9},{"x":25,"y":33,"xe":26.97,"ye":34.39,"L":2.41,"d":35.2},{"x":29,"y":33,"xe":32.13,"ye":33.77,"L":3.22,"d":13.8},{"x":33,"y":33,"xe":35.39,"ye":34.28,"L":2.71,"d":28.2},{"x":37,"y":33,"xe":39.53,"ye":33.42,"L":2.56,"d":9.4},
{"x":1,"y":29,"xe":4.23,"ye":30.39,"L":3.52,"d":23.3},{"x":5,"y":29,"xe":7.3,"ye":30.19,"L":2.59,"d":27.4},{"x":9,"y":29,"xe":11.32,"ye":30.58,"L":2.81,"d":34.3},{"x":13,"y":29,"xe":15.53,"ye":30.46,"L":2.92,"d":30.0},{"x":17,"y":29,"xe":19.27,"ye":29.7,"L":2.38,"d":17.1},{"x":21,"y":29,"xe":23.74,"ye":30.0,"L":2.92,"d":20.0},{"x":25,"y":29,"xe":27.74,"ye":29.93,"L":2.89,"d":18.7},{"x":29,"y":29,"xe":31.86,"ye":29.58,"L":2.92,"d":11.5},{"x":33,"y":29,"xe":34.58,"ye":28.42,"L":1.68,"d":-20.2},{"x":37,"y":29,"xe":39.92,"ye":29.46,"L":2.96,"d":9.0},
{"x":1,"y":25,"xe":3.48,"ye":26.14,"L":2.73,"d":24.7},{"x":5,"y":25,"xe":7.41,"ye":26.56,"L":2.87,"d":32.9},{"x":9,"y":25,"xe":11.44,"ye":26.56,"L":2.9,"d":32.6},{"x":13,"y":25,"xe":15.83,"ye":26.39,"L":3.15,"d":26.2},{"x":17,"y":25,"xe":20.06,"ye":26.26,"L":3.31,"d":22.4},{"x":21,"y":25,"xe":24.44,"ye":25.67,"L":3.5,"d":11.0},{"x":25,"y":25,"xe":28.09,"ye":25.56,"L":3.14,"d":10.3},{"x":29,"y":25,"xe":31.16,"ye":25.93,"L":2.35,"d":23.3},{"x":33,"y":25,"xe":35.27,"ye":25.46,"L":2.32,"d":11.5},{"x":37,"y":25,"xe":40.09,"ye":25.28,"L":3.1,"d":5.2},
{"x":1,"y":21,"xe":4.0,"ye":21.88,"L":3.13,"d":16.3},{"x":5,"y":21,"xe":7.6,"ye":21.79,"L":2.72,"d":16.9},{"x":9,"y":21,"xe":11.62,"ye":22.3,"L":2.92,"d":26.4},{"x":13,"y":21,"xe":15.72,"ye":22.49,"L":3.1,"d":28.7},{"x":17,"y":21,"xe":20.25,"ye":22.12,"L":3.44,"d":19.0},{"x":21,"y":21,"xe":24.2,"ye":20.49,"L":3.24,"d":-9.1},{"x":25,"y":21,"xe":27.86,"ye":21.37,"L":2.88,"d":7.4},{"x":29,"y":21,"xe":30.56,"ye":21.16,"L":1.57,"d":5.9},{"x":33,"y":21,"xe":35.2,"ye":21.72,"L":2.31,"d":18.1},{"x":37,"y":21,"xe":40.09,"ye":21.98,"L":3.24,"d":17.6},
{"x":1,"y":17,"xe":4.46,"ye":18.07,"L":3.62,"d":17.2},{"x":5,"y":17,"xe":8.18,"ye":17.88,"L":3.3,"d":15.5},{"x":9,"y":17,"xe":12.6,"ye":17.88,"L":3.71,"d":13.7},{"x":13,"y":17,"xe":15.55,"ye":18.46,"L":2.94,"d":29.8},{"x":17,"y":17,"xe":20.25,"ye":17.88,"L":3.37,"d":15.2},{"x":21,"y":17,"xe":23.6,"ye":17.88,"L":2.74,"d":18.7},{"x":25,"y":17,"xe":27.69,"ye":17.84,"L":2.82,"d":17.3},{"x":29,"y":17,"xe":30.74,"ye":16.54,"L":1.8,"d":-14.8},{"x":33,"y":17,"xe":36.27,"ye":18.16,"L":3.47,"d":19.5},{"x":37,"y":17,"xe":40.04,"ye":17.26,"L":3.05,"d":4.9},
{"x":1,"y":13,"xe":4.76,"ye":13.88,"L":3.86,"d":13.2},{"x":5,"y":13,"xe":8.88,"ye":13.93,"L":3.99,"d":13.5},{"x":9,"y":13,"xe":11.95,"ye":13.58,"L":3.01,"d":11.1},{"x":13,"y":13,"xe":15.95,"ye":13.53,"L":3.0,"d":10.2},{"x":17,"y":13,"xe":20.25,"ye":14.05,"L":3.42,"d":17.9},{"x":21,"y":13,"xe":24.25,"ye":13.93,"L":3.38,"d":16.0},{"x":25,"y":13,"xe":27.62,"ye":12.14,"L":2.76,"d":-18.2},{"x":29,"y":13,"xe":32.06,"ye":13.23,"L":3.07,"d":4.3},{"x":33,"y":13,"xe":35.69,"ye":13.93,"L":2.85,"d":19.1},{"x":37,"y":13,"xe":39.92,"ye":13.65,"L":2.99,"d":12.5},
{"x":1,"y":9,"xe":5.46,"ye":9.98,"L":4.57,"d":12.4},{"x":5,"y":9,"xe":9.1,"ye":9.86,"L":4.19,"d":11.8},{"x":9,"y":9,"xe":12.32,"ye":9.65,"L":3.38,"d":11.1},{"x":13,"y":9,"xe":16.53,"ye":9.42,"L":3.56,"d":6.8},{"x":17,"y":9,"xe":20.13,"ye":9.93,"L":3.27,"d":16.5},{"x":21,"y":9,"xe":23.83,"ye":9.63,"L":2.9,"d":12.6},{"x":25,"y":9,"xe":27.92,"ye":10.28,"L":3.19,"d":23.7},{"x":29,"y":9,"xe":32.06,"ye":10.0,"L":3.22,"d":18.1},{"x":33,"y":9,"xe":35.97,"ye":9.93,"L":3.11,"d":17.4},{"x":37,"y":9,"xe":39.76,"ye":9.63,"L":2.83,"d":12.9},
{"x":1,"y":5,"xe":4.88,"ye":6.12,"L":4.04,"d":16.1},{"x":5,"y":5,"xe":8.92,"ye":5.81,"L":4.0,"d":11.7},{"x":9,"y":5,"xe":12.64,"ye":5.53,"L":3.68,"d":8.3},{"x":13,"y":5,"xe":16.48,"ye":5.49,"L":3.51,"d":8.0},{"x":17,"y":5,"xe":20.37,"ye":5.6,"L":3.42,"d":10.1},{"x":21,"y":5,"xe":24.25,"ye":5.93,"L":3.38,"d":16.0},{"x":25,"y":5,"xe":28.25,"ye":6.16,"L":3.45,"d":19.6},{"x":29,"y":5,"xe":32.37,"ye":6.39,"L":3.65,"d":22.4},{"x":33,"y":5,"xe":36.04,"ye":6.28,"L":3.3,"d":22.8},{"x":37,"y":5,"xe":39.81,"ye":6.0,"L":2.98,"d":19.6},
{"x":1,"y":1,"xe":4.46,"ye":2.16,"L":3.65,"d":18.5},{"x":5,"y":1,"xe":8.48,"ye":1.63,"L":3.54,"d":10.3},{"x":9,"y":1,"xe":12.53,"ye":1.51,"L":3.57,"d":8.2},{"x":13,"y":1,"xe":16.53,"ye":1.51,"L":3.57,"d":8.2},{"x":17,"y":1,"xe":20.48,"ye":1.7,"L":3.55,"d":11.4},{"x":21,"y":1,"xe":24.53,"ye":2.0,"L":3.67,"d":15.8},{"x":25,"y":1,"xe":28.55,"ye":2.28,"L":3.77,"d":19.8},{"x":29,"y":1,"xe":32.48,"ye":2.46,"L":3.77,"d":22.8},{"x":33,"y":1,"xe":36.5,"ye":2.7,"L":3.89,"d":25.9},{"x":37,"y":1,"xe":40.04,"ye":3.02,"L":3.65,"d":33.6}
],
"stream":[
{"s":"s1","x":1.2,"y":38.6},{"s":"s1","x":3.38,"y":40},
{"s":"s2","x":1.2,"y":36.56},{"s":"s2","x":3.14,"y":37.95},{"s":"s2","x":4.7,"y":38.95},{"s":"s2","x":6.14,"y":40},
{"s":"s3","x":1.2,"y":34.63},{"s":"s3","x":2.5,"y":35.6},{"s":"s3","x":4.0,"y":36.7},{"s":"s3","x":5.6,"y":37.9},{"s":"s3","x":7.0,"y":38.7},{"s":"s3","x":8.5,"y":39.25},{"s":"s3","x":9.5,"y":39.56},{"s":"s3","x":11.42,"y":40},
{"s":"s4","x":1.2,"y":32.73},{"s":"s4","x":2.5,"y":33.7},{"s":"s4","x":4.0,"y":34.9},{"s":"s4","x":5.5,"y":36.1},{"s":"s4","x":7.0,"y":37.2},{"s":"s4","x":8.78,"y":38.2},{"s":"s4","x":10.0,"y":38.8},{"s":"s4","x":11.5,"y":39.3},{"s":"s4","x":13.1,"y":39.95},
{"s":"s5","x":1.2,"y":30.81},{"s":"s5","x":2.5,"y":31.7},{"s":"s5","x":3.5,"y":32.35},{"s":"s5","x":5.0,"y":33.5},{"s":"s5","x":6.5,"y":34.7},{"s":"s5","x":8.0,"y":35.9},{"s":"s5","x":9.5,"y":37.0},{"s":"s5","x":11.2,"y":37.9},{"s":"s5","x":13.0,"y":38.6},{"s":"s5","x":14.6,"y":39.2},{"s":"s5","x":16.35,"y":40},
{"s":"s6","x":1.2,"y":28.93},{"s":"s6","x":3.0,"y":29.9},{"s":"s6","x":5.0,"y":31.2},{"s":"s6","x":7.0,"y":32.6},{"s":"s6","x":9.0,"y":34.1},{"s":"s6","x":10.8,"y":35.5},{"s":"s6","x":12.5,"y":36.9},{"s":"s6","x":14.42,"y":38.1},{"s":"s6","x":16.5,"y":38.85},{"s":"s6","x":18.5,"y":39.45},{"s":"s6","x":20.2,"y":40},
{"s":"s7","x":1.2,"y":27.01},{"s":"s7","x":3.0,"y":27.8},{"s":"s7","x":5.0,"y":29.0},{"s":"s7","x":7.0,"y":30.5},{"s":"s7","x":9.02,"y":32.1},{"s":"s7","x":11.0,"y":33.6},{"s":"s7","x":13.0,"y":35.0},{"s":"s7","x":15.0,"y":36.2},{"s":"s7","x":17.5,"y":37.3},{"s":"s7","x":20.3,"y":38.2},{"s":"s7","x":22.71,"y":38.91},{"s":"s7","x":24.87,"y":39.47},{"s":"s7","x":26.43,"y":40},
{"s":"s8","x":1.2,"y":26.29},{"s":"s8","x":3.0,"y":26.9},{"s":"s8","x":5.0,"y":27.8},{"s":"s8","x":7.0,"y":29.0},{"s":"s8","x":9.0,"y":30.4},{"s":"s8","x":11.0,"y":31.8},{"s":"s8","x":13.0,"y":33.0},{"s":"s8","x":15.0,"y":34.1},{"s":"s8","x":17.0,"y":35.1},{"s":"s8","x":18.5,"y":35.9},{"s":"s8","x":20.3,"y":36.6},{"s":"s8","x":22.7,"y":37.45},{"s":"s8","x":25.1,"y":37.97},{"s":"s8","x":27.5,"y":38.58},{"s":"s8","x":29.7,"y":39.06},{"s":"s8","x":31.6,"y":40},
{"s":"s9","x":1.2,"y":25.04},{"s":"s9","x":3.74,"y":26.41},{"s":"s9","x":6.0,"y":27.6},{"s":"s9","x":8.0,"y":28.8},{"s":"s9","x":10.0,"y":30.2},{"s":"s9","x":12.0,"y":31.6},{"s":"s9","x":14.3,"y":32.9},{"s":"s9","x":16.5,"y":33.9},{"s":"s9","x":18.5,"y":34.5},{"s":"s9","x":20.3,"y":34.99},{"s":"s9","x":22.5,"y":35.6},{"s":"s9","x":25.5,"y":36.6},{"s":"s9","x":28.5,"y":37.7},{"s":"s9","x":31.0,"y":38.7},{"s":"s9","x":34.12,"y":40},
{"s":"s10","x":1.2,"y":23.16},{"s":"s10","x":3.0,"y":23.8},{"s":"s10","x":5.0,"y":24.7},{"s":"s10","x":7.0,"y":26.2},{"s":"s10","x":8.54,"y":27.49},{"s":"s10","x":10.0,"y":28.4},{"s":"s10","x":12.0,"y":29.6},{"s":"s10","x":14.0,"y":30.7},{"s":"s10","x":16.0,"y":31.6},{"s":"s10","x":18.0,"y":32.4},{"s":"s10","x":20.19,"y":33.1},{"s":"s10","x":22.5,"y":33.7},{"s":"s10","x":25.5,"y":34.7},{"s":"s10","x":28.5,"y":35.9},{"s":"s10","x":30.5,"y":36.9},{"s":"s10","x":32.32,"y":37.8},{"s":"s10","x":34.5,"y":38.9},{"s":"s10","x":36.88,"y":40},
{"s":"s11","x":1.2,"y":22.15},{"s":"s11","x":3.0,"y":22.6},{"s":"s11","x":5.0,"y":23.3},{"s":"s11","x":7.0,"y":24.3},{"s":"s11","x":9.0,"y":25.4},{"s":"s11","x":11.0,"y":26.3},{"s":"s11","x":12.5,"y":26.9},{"s":"s11","x":14.42,"y":27.37},{"s":"s11","x":16.5,"y":28.4},{"s":"s11","x":18.5,"y":29.7},{"s":"s11","x":20.3,"y":30.74},{"s":"s11","x":22.5,"y":31.6},{"s":"s11","x":25.5,"y":32.7},{"s":"s11","x":28.5,"y":33.8},{"s":"s11","x":31.5,"y":35.0},{"s":"s11","x":34.5,"y":36.4},{"s":"s11","x":36.8,"y":37.5},{"s":"s11","x":38.56,"y":38.12},{"s":"s11","x":39.88,"y":38.55},
{"s":"s12","x":1.2,"y":21.28},{"s":"s12","x":2.78,"y":21.84},{"s":"s12","x":5.0,"y":22.5},{"s":"s12","x":7.0,"y":23.1},{"s":"s12","x":9.0,"y":23.8},{"s":"s12","x":11.0,"y":24.6},{"s":"s12","x":13.0,"y":25.5},{"s":"s12","x":15.0,"y":26.5},{"s":"s12","x":17.0,"y":27.5},{"s":"s12","x":18.5,"y":28.3},{"s":"s12","x":20.3,"y":29.06},{"s":"s12","x":22.5,"y":29.9},{"s":"s12","x":25.5,"y":30.9},{"s":"s12","x":28.5,"y":32.1},{"s":"s12","x":31.5,"y":33.5},{"s":"s12","x":34.5,"y":35.0},{"s":"s12","x":37.0,"y":36.6},{"s":"s12","x":39.88,"y":37.78},
{"s":"l1","x":1.22,"y":19.31},{"s":"l1","x":2.78,"y":19.67},{"s":"l1","x":4.46,"y":20.03},{"s":"l1","x":6.62,"y":20.63},{"s":"l1","x":8.5,"y":21.4},{"s":"l1","x":10.5,"y":22.3},{"s":"l1","x":12.5,"y":23.3},{"s":"l1","x":14.5,"y":24.4},{"s":"l1","x":16.5,"y":25.5},{"s":"l1","x":18.5,"y":26.6},{"s":"l1","x":20.31,"y":27.54},{"s":"l1","x":23.0,"y":28.3},{"s":"l1","x":26.0,"y":29.4},{"s":"l1","x":29.0,"y":30.8},{"s":"l1","x":32.0,"y":32.4},{"s":"l1","x":35.0,"y":33.9},{"s":"l1","x":37.5,"y":34.7},{"s":"l1","x":39.88,"y":35.23},
{"s":"l2","x":1.22,"y":18.23},{"s":"l2","x":2.78,"y":18.59},{"s":"l2","x":4.46,"y":18.95},{"s":"l2","x":6.14,"y":19.43},{"s":"l2","x":7.34,"y":19.91},{"s":"l2","x":8.54,"y":20.27},{"s":"l2","x":9.74,"y":20.63},{"s":"l2","x":11.5,"y":21.4},{"s":"l2","x":13.5,"y":22.4},{"s":"l2","x":15.5,"y":23.6},{"s":"l2","x":17.5,"y":24.9},{"s":"l2","x":20.31,"y":26.65},{"s":"l2","x":22.5,"y":27.4},{"s":"l2","x":25.0,"y":28.2},{"s":"l2","x":27.0,"y":29.0},{"s":"l2","x":28.5,"y":29.6},{"s":"l2","x":29.7,"y":30.2},{"s":"l2","x":32.08,"y":31.0},{"s":"l2","x":33.28,"y":30.9},{"s":"l2","x":35.44,"y":30.6},{"s":"l2","x":37.12,"y":30.7},{"s":"l2","x":39.88,"y":31.39},
{"s":"l3","x":1.22,"y":17.39},{"s":"l3","x":3.26,"y":17.94},{"s":"l3","x":5.66,"y":18.59},{"s":"l3","x":7.82,"y":19.14},{"s":"l3","x":9.5,"y":19.67},{"s":"l3","x":10.94,"y":20.03},{"s":"l3","x":12.39,"y":20.63},{"s":"l3","x":14.0,"y":21.3},{"s":"l3","x":16.0,"y":22.4},{"s":"l3","x":18.0,"y":23.8},{"s":"l3","x":20.31,"y":25.28},{"s":"l3","x":22.5,"y":26.2},{"s":"l3","x":25.0,"y":27.1},{"s":"l3","x":27.5,"y":28.0},{"s":"l3","x":29.92,"y":28.9},{"s":"l3","x":31.12,"y":29.0},{"s":"l3","x":32.56,"y":28.8},{"s":"l3","x":33.52,"y":28.7},{"s":"l3","x":35.92,"y":29.2},{"s":"l3","x":39.88,"y":30.13},
{"s":"l4","x":1.22,"y":16.55},{"s":"l4","x":2.78,"y":17.15},{"s":"l4","x":4.46,"y":17.56},{"s":"l4","x":6.62,"y":17.99},{"s":"l4","x":9.02,"y":18.71},{"s":"l4","x":10.94,"y":19.31},{"s":"l4","x":12.86,"y":20.03},{"s":"l4","x":14.55,"y":20.39},{"s":"l4","x":15.75,"y":20.6},{"s":"l4","x":17.0,"y":21.3},{"s":"l4","x":18.5,"y":22.4},{"s":"l4","x":20.31,"y":23.52},{"s":"l4","x":22.0,"y":24.6},{"s":"l4","x":24.0,"y":25.6},{"s":"l4","x":26.07,"y":26.4},{"s":"l4","x":28.0,"y":27.0},{"s":"l4","x":30.0,"y":27.3},{"s":"l4","x":31.84,"y":27.49},{"s":"l4","x":34.0,"y":27.5},{"s":"l4","x":37.84,"y":27.54},{"s":"l4","x":39.88,"y":27.68},
{"s":"l5","x":1.22,"y":15.39},{"s":"l5","x":2.78,"y":16.07},{"s":"l5","x":4.46,"y":16.55},{"s":"l5","x":6.62,"y":16.79},{"s":"l5","x":9.02,"y":17.51},{"s":"l5","x":11.42,"y":18.35},{"s":"l5","x":13.35,"y":18.83},{"s":"l5","x":15.51,"y":19.55},{"s":"l5","x":17.68,"y":20.4},{"s":"l5","x":20.31,"y":21.72},{"s":"l5","x":23.0,"y":22.6},{"s":"l5","x":26.0,"y":23.5},{"s":"l5","x":29.0,"y":24.2},{"s":"l5","x":32.0,"y":24.6},{"s":"l5","x":35.0,"y":24.9},{"s":"l5","x":37.5,"y":25.1},{"s":"l5","x":39.88,"y":25.2},
{"s":"l6","x":1.22,"y":14.33},{"s":"l6","x":3.74,"y":15.05},{"s":"l6","x":6.62,"y":15.58},{"s":"l6","x":8.78,"y":15.58},{"s":"l6","x":9.98,"y":15.95},{"s":"l6","x":11.42,"y":16.43},{"s":"l6","x":13.35,"y":17.27},{"s":"l6","x":15.51,"y":18.23},{"s":"l6","x":17.68,"y":18.71},{"s":"l6","x":20.31,"y":19.43},{"s":"l6","x":22.0,"y":19.9},{"s":"l6","x":24.0,"y":20.4},{"s":"l6","x":26.07,"y":20.9},{"s":"l6","x":28.0,"y":21.3},{"s":"l6","x":30.0,"y":21.6},{"s":"l6","x":32.08,"y":21.9},{"s":"l6","x":34.5,"y":22.0},{"s":"l6","x":37.0,"y":22.1},{"s":"l6","x":39.88,"y":22.15},
{"s":"e1","x":27.0,"y":22.2},{"s":"e1","x":30.0,"y":22.9},{"s":"e1","x":33.0,"y":23.4},{"s":"e1","x":36.0,"y":23.7},{"s":"e1","x":39.88,"y":24.0},
{"s":"l7","x":1.22,"y":13.49},{"s":"l7","x":3.5,"y":13.9},{"s":"l7","x":6.0,"y":14.1},{"s":"l7","x":8.5,"y":14.3},{"s":"l7","x":11.0,"y":14.4},{"s":"l7","x":12.5,"y":14.5},{"s":"l7","x":14.42,"y":14.94},{"s":"l7","x":16.0,"y":15.6},{"s":"l7","x":18.0,"y":16.2},{"s":"l7","x":20.31,"y":16.67},{"s":"l7","x":22.0,"y":17.1},{"s":"l7","x":24.0,"y":17.6},{"s":"l7","x":26.0,"y":18.3},{"s":"l7","x":28.0,"y":18.9},{"s":"l7","x":30.0,"y":19.4},{"s":"l7","x":32.0,"y":19.8},{"s":"l7","x":34.0,"y":20.2},{"s":"l7","x":36.0,"y":20.5},{"s":"l7","x":37.84,"y":20.7},{"s":"l7","x":39.88,"y":21.0},
{"s":"dd","x":24.15,"y":16.67},{"s":"dd","x":25.83,"y":16.86},{"s":"dd","x":27.27,"y":16.86},{"s":"dd","x":28.95,"y":16.55},{"s":"dd","x":30.15,"y":16.35},{"s":"dd","x":31.6,"y":16.74},{"s":"dd","x":33.28,"y":17.03},{"s":"dd","x":34.96,"y":17.56},{"s":"dd","x":37.36,"y":18.23},{"s":"dd","x":39.88,"y":19.14},
{"s":"l8","x":1.22,"y":11.62},{"s":"l8","x":2.78,"y":11.86},{"s":"l8","x":4.94,"y":12.34},{"s":"l8","x":7.34,"y":12.7},{"s":"l8","x":9.74,"y":12.94},{"s":"l8","x":12.14,"y":13.18},{"s":"l8","x":13.82,"y":13.42},{"s":"l8","x":14.78,"y":13.9},{"s":"l8","x":16.22,"y":14.5},{"s":"l8","x":18.14,"y":14.86},{"s":"l8","x":20.31,"y":15.1},{"s":"l8","x":21.99,"y":15.7},{"s":"l8","x":24.39,"y":15.94},{"s":"l8","x":25.59,"y":15.94},{"s":"l8","x":27.15,"y":15.7},{"s":"l8","x":28.0,"y":15.39},{"s":"l8","x":29.92,"y":15.22},{"s":"l8","x":31.6,"y":15.54},{"s":"l8","x":33.28,"y":15.83},{"s":"l8","x":35.2,"y":16.35},{"s":"l8","x":37.6,"y":16.79},{"s":"l8","x":39.88,"y":17.27},
{"s":"l9","x":1.22,"y":9.62},{"s":"l9","x":2.9,"y":10.05},{"s":"l9","x":4.94,"y":10.53},{"s":"l9","x":7.34,"y":11.01},{"s":"l9","x":9.74,"y":11.5},{"s":"l9","x":12.14,"y":11.86},{"s":"l9","x":13.82,"y":12.22},{"s":"l9","x":15.02,"y":12.7},{"s":"l9","x":16.95,"y":13.42},{"s":"l9","x":18.63,"y":13.78},{"s":"l9","x":20.31,"y":14.26},{"s":"l9","x":22.0,"y":14.75},{"s":"l9","x":24.0,"y":15.05},{"s":"l9","x":25.5,"y":15.0},{"s":"l9","x":27.0,"y":14.6},{"s":"l9","x":28.5,"y":14.4},{"s":"l9","x":30.5,"y":14.45},{"s":"l9","x":32.0,"y":14.75},{"s":"l9","x":33.28,"y":15.0},{"s":"l9","x":35.0,"y":15.5},{"s":"l9","x":37.0,"y":15.9},{"s":"l9","x":39.88,"y":16.26},
{"s":"l10","x":1.22,"y":8.66},{"s":"l10","x":3.74,"y":9.09},{"s":"l10","x":6.62,"y":9.57},{"s":"l10","x":9.02,"y":10.05},{"s":"l10","x":10.94,"y":10.53},{"s":"l10","x":13.35,"y":10.77},{"s":"l10","x":15.02,"y":11.38},{"s":"l10","x":16.47,"y":11.98},{"s":"l10","x":18.15,"y":12.7},{"s":"l10","x":20.31,"y":13.42},{"s":"l10","x":22.0,"y":13.9},{"s":"l10","x":23.5,"y":14.2},{"s":"l10","x":25.0,"y":14.2},{"s":"l10","x":26.5,"y":13.7},{"s":"l10","x":28.0,"y":13.5},{"s":"l10","x":30.0,"y":13.6},{"s":"l10","x":32.0,"y":14.0},{"s":"l10","x":34.0,"y":14.4},{"s":"l10","x":36.0,"y":14.6},{"s":"l10","x":37.84,"y":14.74},{"s":"l10","x":39.88,"y":15.06},
{"s":"l11","x":1.22,"y":7.72},{"s":"l11","x":3.74,"y":8.13},{"s":"l11","x":6.86,"y":8.85},{"s":"l11","x":8.3,"y":9.52},{"s":"l11","x":10.94,"y":10.05},{"s":"l11","x":13.35,"y":10.29},{"s":"l11","x":14.3,"y":10.41},{"s":"l11","x":15.75,"y":10.89},{"s":"l11","x":18.15,"y":11.5},{"s":"l11","x":20.31,"y":12.46},{"s":"l11","x":21.51,"y":12.82},{"s":"l11","x":23.19,"y":13.13},{"s":"l11","x":24.87,"y":13.13},{"s":"l11","x":26.79,"y":12.58},{"s":"l11","x":28.48,"y":12.7},{"s":"l11","x":30.4,"y":12.99},{"s":"l11","x":32.08,"y":13.42},{"s":"l11","x":33.5,"y":13.9},
{"s":"l12","x":1.22,"y":7.09},{"s":"l12","x":3.74,"y":7.65},{"s":"l12","x":6.62,"y":8.25},{"s":"l12","x":8.54,"y":8.73},{"s":"l12","x":10.94,"y":9.09},{"s":"l12","x":13.35,"y":9.45},{"s":"l12","x":15.75,"y":9.69},{"s":"l12","x":18.15,"y":10.41},{"s":"l12","x":20.31,"y":11.5},{"s":"l12","x":21.51,"y":11.69},{"s":"l12","x":23.43,"y":11.79},{"s":"l12","x":24.87,"y":11.69},{"s":"l12","x":26.19,"y":11.57},
{"s":"l13","x":1.22,"y":5.68},{"s":"l13","x":2.78,"y":6.2},{"s":"l13","x":4.94,"y":6.57},{"s":"l13","x":7.34,"y":7.05},{"s":"l13","x":9.74,"y":7.29},{"s":"l13","x":12.14,"y":7.65},{"s":"l13","x":14.55,"y":8.13},{"s":"l13","x":16.95,"y":8.37},{"s":"l13","x":20.31,"y":9.57},{"s":"l13","x":23.19,"y":10.05},{"s":"l13","x":25.59,"y":10.77},{"s":"l13","x":27.99,"y":11.5},{"s":"l13","x":29.2,"y":11.93},{"s":"l13","x":30.4,"y":12.22},{"s":"l13","x":31.6,"y":12.46},{"s":"l13","x":33.52,"y":12.94},{"s":"l13","x":35.92,"y":13.42},{"s":"l13","x":37.84,"y":13.66},{"s":"l13","x":39.88,"y":13.9},
{"s":"l14","x":1.22,"y":4.71},{"s":"l14","x":3.74,"y":5.36},{"s":"l14","x":6.14,"y":5.72},{"s":"l14","x":8.54,"y":6.08},{"s":"l14","x":10.94,"y":6.45},{"s":"l14","x":13.35,"y":6.81},{"s":"l14","x":15.75,"y":7.05},{"s":"l14","x":18.15,"y":7.41},{"s":"l14","x":20.31,"y":8.01},{"s":"l14","x":22.0,"y":8.3},{"s":"l14","x":24.0,"y":8.6},{"s":"l14","x":26.07,"y":8.97},{"s":"l14","x":28.0,"y":9.8},{"s":"l14","x":30.0,"y":10.4},{"s":"l14","x":32.0,"y":10.8},{"s":"l14","x":34.0,"y":11.0},{"s":"l14","x":36.5,"y":11.2},{"s":"l14","x":39.88,"y":11.45},
{"s":"l15","x":1.22,"y":3.73},{"s":"l15","x":2.66,"y":4.28},{"s":"l15","x":4.46,"y":4.64},{"s":"l15","x":7.34,"y":5.0},{"s":"l15","x":9.74,"y":5.36},{"s":"l15","x":12.14,"y":5.72},{"s":"l15","x":14.55,"y":6.08},{"s":"l15","x":16.95,"y":6.45},{"s":"l15","x":20.31,"y":6.81},{"s":"l15","x":22.5,"y":7.3},{"s":"l15","x":25.0,"y":7.9},{"s":"l15","x":27.5,"y":8.4},{"s":"l15","x":30.0,"y":8.8},{"s":"l15","x":32.08,"y":9.1},{"s":"l15","x":34.5,"y":9.2},{"s":"l15","x":37.0,"y":9.0},{"s":"l15","x":38.32,"y":8.95},{"s":"l15","x":39.88,"y":8.97},
{"s":"l16","x":1.22,"y":1.8},{"s":"l16","x":2.78,"y":2.24},{"s":"l16","x":4.94,"y":2.65},{"s":"l16","x":7.34,"y":2.96},{"s":"l16","x":8.78,"y":3.2},{"s":"l16","x":10.94,"y":3.44},{"s":"l16","x":13.35,"y":3.68},{"s":"l16","x":14.42,"y":3.92},{"s":"l16","x":16.95,"y":4.28},{"s":"l16","x":20.31,"y":5.0},{"s":"l16","x":22.5,"y":5.5},{"s":"l16","x":25.0,"y":6.1},{"s":"l16","x":27.5,"y":6.7},{"s":"l16","x":30.0,"y":7.2},{"s":"l16","x":32.5,"y":7.6},{"s":"l16","x":35.0,"y":7.9},{"s":"l16","x":37.5,"y":8.0},{"s":"l16","x":39.88,"y":8.13},
{"s":"bb1","x":3.62,"y":1.11},{"s":"bb1","x":6.14,"y":1.52},{"s":"bb1","x":8.54,"y":1.83},{"s":"bb1","x":10.94,"y":2.12},{"s":"bb1","x":13.35,"y":2.48},{"s":"bb1","x":15.75,"y":2.84},{"s":"bb1","x":18.15,"y":3.2},{"s":"bb1","x":20.31,"y":3.8},{"s":"bb1","x":23.0,"y":4.2},{"s":"bb1","x":26.07,"y":4.64},{"s":"bb1","x":28.5,"y":5.3},{"s":"bb1","x":31.0,"y":5.9},{"s":"bb1","x":33.5,"y":6.5},{"s":"bb1","x":36.0,"y":7.0},{"s":"bb1","x":38.0,"y":7.3},{"s":"bb1","x":39.88,"y":7.34},
{"s":"bb2","x":11.26,"y":1.03},{"s":"bb2","x":13.35,"y":1.39},{"s":"bb2","x":15.75,"y":1.76},{"s":"bb2","x":18.15,"y":2.24},{"s":"bb2","x":20.31,"y":2.72},{"s":"bb2","x":23.0,"y":3.3},{"s":"bb2","x":25.5,"y":3.9},{"s":"bb2","x":28.0,"y":4.5},{"s":"bb2","x":30.5,"y":5.1},{"s":"bb2","x":32.5,"y":5.6},{"s":"bb2","x":35.0,"y":6.0},{"s":"bb2","x":37.5,"y":6.3},{"s":"bb2","x":39.88,"y":6.49},
{"s":"bb3","x":20.07,"y":1.1},{"s":"bb3","x":23.0,"y":2.1},{"s":"bb3","x":26.07,"y":3.0},{"s":"bb3","x":29.0,"y":3.8},{"s":"bb3","x":32.0,"y":4.5},{"s":"bb3","x":35.0,"y":4.95},{"s":"bb3","x":37.5,"y":5.15},{"s":"bb3","x":39.88,"y":5.24},
{"s":"bb4","x":24.92,"y":1.1},{"s":"bb4","x":27.5,"y":1.9},{"s":"bb4","x":30.0,"y":2.7},{"s":"bb4","x":32.08,"y":3.3},{"s":"bb4","x":34.5,"y":3.75},
{"s":"bb5","x":29.12,"y":1.1},{"s":"bb5","x":31.5,"y":1.8},{"s":"bb5","x":33.5,"y":2.3},{"s":"bb5","x":35.2,"y":2.6},
{"s":"bb6","x":33.45,"y":1.1},{"s":"bb6","x":34.96,"y":1.88},{"s":"bb6","x":36.4,"y":2.72},{"s":"bb6","x":37.84,"y":3.68},{"s":"bb6","x":39.88,"y":3.92},
{"s":"bb7","x":37.65,"y":1.2},{"s":"bb7","x":38.8,"y":1.8},{"s":"bb7","x":39.88,"y":2.3},
{"s":"m1","x":33.6,"y":32.0},{"s":"m1","x":35.5,"y":32.5},{"s":"m1","x":37.84,"y":33.0},{"s":"m1","x":39.88,"y":33.3}
],
"heads":[
{"x":3.14,"y":37.95,"d":34},{"x":8.78,"y":38.2,"d":28},{"x":14.42,"y":38.1,"d":24},{"x":20.3,"y":38.2,"d":17},{"x":26.43,"y":40,"d":19},{"x":32.32,"y":37.8,"d":27},{"x":38.56,"y":38.12,"d":19},
{"x":3.5,"y":32.35,"d":35},{"x":9.02,"y":32.1,"d":38},{"x":14.3,"y":32.9,"d":27},{"x":20.19,"y":33.1,"d":16},{"x":26.8,"y":33.18,"d":20},{"x":32.0,"y":32.4,"d":27},{"x":37.84,"y":33.0,"d":12},
{"x":3.74,"y":26.41,"d":28},{"x":8.54,"y":27.49,"d":36},{"x":14.42,"y":27.37,"d":20},{"x":20.31,"y":27.54,"d":22},{"x":26.07,"y":26.4,"d":19},{"x":31.84,"y":27.49,"d":3},{"x":37.84,"y":27.54,"d":2},
{"x":2.78,"y":21.84,"d":18},{"x":9.74,"y":20.63,"d":20},{"x":15.75,"y":20.6,"d":20},{"x":20.31,"y":21.72,"d":22},{"x":26.07,"y":20.9,"d":12.5},{"x":32.08,"y":21.9,"d":5},{"x":37.84,"y":20.7,"d":7.5},
{"x":2.78,"y":16.07,"d":20},{"x":8.78,"y":15.58,"d":9},{"x":14.42,"y":14.94,"d":18},{"x":20.31,"y":15.1,"d":13},{"x":27.15,"y":15.7,"d":-14},{"x":33.28,"y":15.0,"d":14},{"x":37.84,"y":14.74,"d":7},
{"x":2.9,"y":10.05,"d":14},{"x":8.3,"y":9.52,"d":18},{"x":14.3,"y":10.41,"d":13},{"x":20.31,"y":9.57,"d":15},{"x":26.07,"y":8.97,"d":17},{"x":32.08,"y":9.1,"d":5},{"x":38.32,"y":8.95,"d":0},
{"x":2.66,"y":4.28,"d":16},{"x":8.78,"y":3.2,"d":8},{"x":14.42,"y":3.92,"d":10},{"x":20.31,"y":3.8,"d":12},{"x":26.07,"y":4.64,"d":11.5},{"x":32.0,"y":4.5,"d":11},{"x":37.84,"y":3.68,"d":28}
]
},
"vconcat":[
{
 "width":560,"height":560,
 "title":{"text":"a","anchor":"start","frame":"group","font":"Liberation Serif","fontSize":30,"fontWeight":"bold","color":"black","baseline":"alphabetic","offset":0,"dx":-201.5,"dy":85.3},
 "layer":[
  {"data":{"name":"contours"},
   "mark":{"type":"line","strokeWidth":1},
   "encoding":{
    "x":{"field":"x","type":"quantitative","scale":{"domain":[1,40],"nice":false,"zero":false},
         "axis":{"orient":"bottom","values":[5,10,15,20,25,30,35,40],"tickSize":-6,"labelPadding":11.5,"labelFontSize":16.5,"title":"W-E(km)","titleFontSize":17,"titlePadding":6}},
    "y":{"field":"y","type":"quantitative","scale":{"domain":[1,40],"nice":false,"zero":false},
         "axis":{"orient":"left","values":[5,10,15,20,25,30,35,40],"tickSize":-6,"labelPadding":14.5,"labelFontSize":16.5,"title":"S-N (km)","titleFontSize":17,"titlePadding":5}},
    "stroke":{"field":"v","type":"quantitative",
      "scale":{"type":"linear","domain":[50,100,150,200],"range":["#ff0000","#ffff00","#00ff00","#00ffff"],"interpolate":"hsl"},
      "legend":{"orient":"none","legendX":-150.1,"legendY":627.4,"direction":"horizontal","gradientLength":860.6,"gradientThickness":51.7,"gradientStrokeColor":"black","gradientStrokeWidth":1,"values":[50,100,150,200],"labelAlign":"center","labelOffset":7.7,"labelFontSize":18,"labelColor":"black","labelFont":"Liberation Sans","title":"(m)","titleOrient":"right","titleFontSize":18,"titleFontWeight":"normal","titleColor":"black","titleFont":"Liberation Sans","titleAnchor":"middle","titleBaseline":"middle","titlePadding":9,
        "encode":{"labels":{"update":{"align":{"value":"center"}}}}}},
    "detail":{"field":"s","type":"nominal"},
    "order":{"value":null}
   }},
  {"data":{"name":"quiver"},
   "mark":{"type":"rule","color":"#0000ff","strokeWidth":1},
   "encoding":{
    "x":{"field":"x","type":"quantitative","axis":{"orient":"top","values":[5,10,15,20,25,30,35,40],"tickSize":-6,"labels":false,"domain":false,"title":null}},
    "y":{"field":"y","type":"quantitative","axis":{"orient":"right","values":[5,10,15,20,25,30,35,40],"tickSize":-6,"labels":false,"domain":false,"title":null}},
    "x2":{"field":"xe"},"y2":{"field":"ye"}
   }},
  {"data":{"name":"quiver"},
   "mark":{"type":"point","shape":"M-1,-0.33L0,0L-1,0.33","filled":false,"color":"#0000ff","strokeWidth":1,"opacity":1},
   "encoding":{
    "x":{"field":"xe","type":"quantitative","axis":null},
    "y":{"field":"ye","type":"quantitative","axis":null},
    "size":{"field":"L","type":"quantitative","scale":{"type":"pow","exponent":2,"domain":[0,5],"range":[0,2247],"zero":true,"nice":false},"legend":null},
    "angle":{"field":"d","type":"quantitative","scale":{"domain":[-90,90],"range":[90,-90]},"legend":null}
   }}
 ],
 "resolve":{"axis":{"x":"independent","y":"independent"}}
},
{
 "width":555,"height":555,
 "view":{"stroke":null},
 "title":{"text":"b","anchor":"start","frame":"group","font":"Liberation Serif","fontSize":30,"fontWeight":"bold","color":"black","baseline":"alphabetic","offset":0,"dx":-202.5,"dy":60.3},
 "layer":[
  {"data":{"name":"stream"},
   "mark":{"type":"line","color":"#0000ff","strokeWidth":1},
   "encoding":{
    "x":{"field":"x","type":"quantitative","scale":{"domain":[0,40],"nice":false,"zero":false},
         "axis":{"values":[0,5,10,15,20,25,30,35,40],"tickSize":-5,"labelPadding":9,"labelFontSize":15,"title":"W-E (km)","titleFontSize":15,"titlePadding":14}},
    "y":{"field":"y","type":"quantitative","scale":{"domain":[0,40],"nice":false,"zero":false},
         "axis":{"values":[0,5,10,15,20,25,30,35,40],"tickSize":-5,"labelPadding":10,"labelFontSize":15,"title":"S-N (km)","titleFontSize":15,"titlePadding":12}},
    "detail":{"field":"s","type":"nominal"},
    "order":{"value":null}
   }},
  {"data":{"name":"heads"},
   "mark":{"type":"point","shape":"M-1,-0.55L0,0L-1,0.55","filled":false,"color":"#0000ff","strokeWidth":1,"size":550,"opacity":1},
   "encoding":{
    "x":{"field":"x","type":"quantitative"},
    "y":{"field":"y","type":"quantitative"},
    "angle":{"field":"d","type":"quantitative","scale":{"domain":[-90,90],"range":[90,-90]},"legend":null}
   }}
 ]
}
]
}
